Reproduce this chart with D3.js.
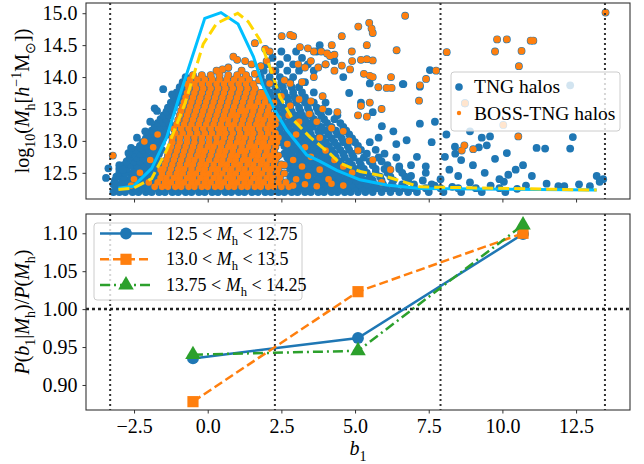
<!DOCTYPE html>
<html>
<head>
<meta charset="utf-8">
<script src="https://cdn.jsdelivr.net/npm/d3@7"></script>
<style>
  body { margin: 0; background: #fff; }
  svg { display: block; }
</style>
</head>
<body>
<svg id="chart" width="644" height="464"></svg>
<script>
// ---- data ----
const xTicks = [-2.5, 0, 2.5, 5, 7.5, 10, 12.5];
const massTicks = [12.5, 13, 13.5, 14, 14.5, 15];
const ratioTicks = [0.90, 0.95, 1.00, 1.05, 1.10];
const binEdges = [-3.31, 2.28, 7.9, 13.48];

// b1 distributions (top panel curves)
const allCurve = [[-3.03,12.26],[-2.52,12.29],[-1.9,12.57],[-1.39,13.06],[-1.0,13.64],[-0.1,14.92],[0.45,15.01],[1.03,14.83],[1.55,14.32],[1.89,13.85],[2.28,13.48],[2.68,13.17],[3.36,12.78],[3.81,12.68],[4.38,12.54],[5.17,12.39],[6.07,12.31],[7.2,12.255],[13.2,12.23]];
const bossCurve = [[-3.03,12.24],[-2.52,12.26],[-1.9,12.41],[-1.39,12.86],[-0.77,13.59],[-0.15,14.52],[0.3,14.84],[1.02,15.0],[1.37,14.87],[1.77,14.58],[2.23,14.0],[2.45,13.69],[2.9,13.33],[3.47,13.06],[4.15,12.8],[4.49,12.65],[5.17,12.52],[6.07,12.44],[7.2,12.28],[13.2,12.23]];

// TNG halos: rows of [log10 Mh, b1 values], then loose points [b1, log10 Mh]
const tngRows = [
  [12.2, [-3.2,-3.0,-2.8,-2.55,-2.35,-2.1,-1.9,-1.65,-1.45,-1.2,-1.0,-0.75,-0.55,-0.3,-0.1,0.15,0.35,0.6,0.8,1.05,1.25,1.5,1.7,1.95,2.15,2.4,2.6,2.85,3.05,3.3,3.5,3.75,3.95,4.2,4.4,4.65,4.85,5.1,5.35,5.6,5.9,6.2,6.5,6.8,7.1,7.5,8.0,8.6,9.3,10.1]],
  [12.26, [-3.1,-2.9,-2.65,-2.45,-2.2,-2.0,-1.75,-1.55,-1.3,-1.1,-0.85,-0.65,-0.4,-0.2,0.05,0.25,0.5,0.7,0.95,1.15,1.4,1.6,1.85,2.05,2.3,2.5,2.75,2.95,3.2,3.4,3.65,3.85,4.1,4.3,4.55,4.75,5.0,5.25,5.5,5.75,6.05,6.35,6.7,7.0,7.4,7.9,8.5,9.1,9.9]],
  [12.32, [-3.2,-2.95,-2.75,-2.5,-2.3,-2.05,-1.85,-1.6,-1.4,2.9,3.1,3.35,3.55,3.8,4.0,4.25,4.45,4.7,4.9,5.15,5.4,5.65,5.95,6.25,6.6,7.0,7.6]],
  [12.38, [-3.15,-2.9,-2.7,-2.45,-2.25,-2.0,-1.8,-1.6,2.9,3.2,3.4,3.65,3.9,4.1,4.35,4.6,4.8,5.05,5.3,5.6,5.9,6.3,6.8,7.3]],
  [12.44, [-3.1,-2.85,-2.6,-2.4,-2.15,-1.95,-1.7,2.8,3.05,3.3,3.5,3.75,4.0,4.2,4.45,4.7,4.95,5.2,5.5,5.85,6.2,6.7]],
  [12.5, [-3.0,-2.8,-2.55,-2.3,-2.1,-1.85,-1.65,2.9,3.15,3.4,3.6,3.85,4.1,4.3,4.55,4.8,5.1,5.4,5.7,6.1,6.6,7.4]],
  [12.56, [-3.0,-2.75,-2.5,-2.25,-2.0,-1.8,-1.6,2.8,3.0,3.25,3.5,3.7,3.95,4.2,4.4,4.7,5.0,5.3,5.7,6.0,6.5]],
  [12.62, [-2.85,-2.6,-2.4,-2.15,-1.95,-1.7,2.7,2.95,3.2,3.4,3.65,3.9,4.1,4.35,4.6,4.9,5.2,5.6,6.1,6.9]],
  [12.68, [-2.75,-2.5,-2.3,-2.05,-1.85,-1.6,2.8,3.05,3.3,3.55,3.75,4.0,4.25,4.5,4.8,5.15,5.5,5.9]],
  [12.74, [-2.65,-2.4,-2.2,-1.95,-1.75,2.7,2.9,3.15,3.4,3.6,3.85,4.1,4.35,4.65,4.95,5.3,5.8,6.4]],
  [12.8, [-2.55,-2.3,-2.1,-1.85,-1.65,2.6,2.85,3.1,3.3,3.55,3.8,4.0,4.3,4.6,4.9,5.4]],
  [12.86, [-2.45,-2.2,-2.0,-1.75,-1.55,2.7,2.95,3.2,3.45,3.7,3.95,4.2,4.5,4.8,5.2,5.7]],
  [12.92, [-2.3,-2.1,-1.9,-1.65,2.6,2.85,3.1,3.35,3.6,3.85,4.1,4.4,4.75,5.1]],
  [12.98, [-2.2,-2.0,-1.8,-1.55,2.5,2.75,3.0,3.25,3.5,3.75,4.0,4.3,4.6,5.0,5.5]],
  [13.04, [-2.1,-1.9,-1.7,-1.5,2.6,2.85,3.1,3.35,3.6,3.9,4.2,4.55,4.9]],
  [13.1, [-2.0,-1.8,-1.6,-1.4,2.5,2.75,3.0,3.25,3.5,3.8,4.1,4.4,4.8]],
  [13.16, [-1.9,-1.7,-1.5,2.45,2.7,2.95,3.2,3.45,3.75,4.0,4.35,4.7]],
  [13.22, [-1.8,-1.6,-1.4,2.5,2.75,3.0,3.3,3.55,3.85,4.2,4.6]],
  [13.28, [-1.7,-1.5,-1.3,2.4,2.65,2.9,3.2,3.45,3.7,4.05,4.5]],
  [13.34, [-1.6,-1.4,2.5,2.8,3.05,3.3,3.6,3.95,4.3]],
  [13.4, [-1.5,-1.3,2.4,2.65,2.95,3.2,3.5,3.85,4.4]],
  [13.46, [-1.4,-1.2,2.35,2.6,2.85,3.15,3.45,3.75,4.1]],
  [13.52, [-1.35,-1.15,2.3,2.55,2.8,3.1,3.4,3.7]],
  [13.6, [-1.25,-1.05,2.2,2.45,2.75,3.0,3.3,3.6,4.0]],
  [13.68, [-1.15,-0.95,2.15,2.4,2.7,2.95,3.3]],
  [13.76, [-1.05,-0.85,2.1,2.35,2.6,2.9,3.2,3.6]],
  [13.84, [-0.95,-0.8,2.0,2.3,2.55,2.85,3.1]],
  [13.92, [-0.85,1.9,2.2,2.5,2.8,3.3]],
  [14.0, [-0.75,1.8,2.1,2.45,2.9]],
  [14.1, [1.9,2.3,2.7,3.1,3.6]],
  [14.2, [2.0,2.45,2.9,3.4,4.0]],
  [14.3, [2.2,2.7,3.2]],
  [14.4, [2.5,3.0,3.7]]
];
const tngLoose = [[-3.37,12.57],[-3.45,12.42],[-3.0,12.62],[-2.88,12.55],[-2.69,12.81],[-2.6,12.89],[-2.29,12.9],[-2.12,13.15],[-1.8,13.51],[-1.72,13.47],[-1.51,13.81],[-1.21,13.73],[-2.4,13.05],[-1.95,13.3],
  [6.64,13.89],[7.2,13.27],[7.71,13.3],[6.75,13.01],[7.6,12.98],[8.39,12.91],[7.54,14.11],[6.62,13.89],[5.91,13.23],[5.6,13.45],[6.3,13.15],[5.2,13.6],[4.8,13.75],[5.5,13.9],[4.6,14.0],[4.3,14.25],[3.8,14.5],[7.2,13.85],
  [8.05,12.75],[9.3,13.05],[9.58,13.07],[9.47,12.93],[8.73,13.59],[12.3,13.87],[10.15,12.81],[11.16,12.89],[11.45,12.88],[12.3,12.88],[12.39,13.06],[13.2,12.45],[13.42,12.4],[13.3,12.36],[11.5,12.33],[11.9,12.29],[12.1,12.29],[12.97,12.29],
  [9.9,12.4],[10.05,12.36],[10.2,12.47],[10.45,12.55],[10.7,12.62],[9.4,12.5],[9.0,12.62],[8.6,12.7],[8.2,12.55],[8.9,12.35],[9.6,12.3],[10.8,12.3],[8.4,12.8],[9.2,12.9],[9.75,12.72],[8.1,13.1],[8.9,13.15],[7.9,12.4],[8.5,12.45],[7.4,12.6],[7.1,12.75],[6.5,12.6],[6.9,12.45],[7.7,12.3],[8.3,12.28],[11.0,12.45],[12.6,12.32],[10.5,12.25],
  [6.0,12.8],[6.4,12.95],[5.8,13.05]];

// BOSS-TNG halos
const bossRows = [
  [12.28, [-1.8,-1.55,-1.35,-1.1,-0.9,-0.65,-0.45,-0.2,0.0,0.25,0.45,0.7,0.9,1.15,1.35,1.6,1.8,2.05,2.25,2.5,2.75]],
  [12.35, [-1.7,-1.45,-1.25,-1.0,-0.8,-0.55,-0.35,-0.1,0.1,0.35,0.55,0.8,1.0,1.25,1.45,1.7,1.9,2.15,2.4,2.65]],
  [12.42, [-1.6,-1.4,-1.15,-0.95,-0.7,-0.5,-0.25,-0.05,0.2,0.4,0.65,0.85,1.1,1.3,1.55,1.75,2.0,2.2,2.45]],
  [12.49, [-1.55,-1.3,-1.05,-0.85,-0.6,-0.4,-0.15,0.05,0.3,0.5,0.75,0.95,1.2,1.4,1.65,1.85,2.1,2.35,2.6]],
  [12.56, [-1.5,-1.25,-1.0,-0.8,-0.55,-0.3,-0.1,0.15,0.35,0.6,0.8,1.05,1.25,1.5,1.7,1.95,2.15,2.4]],
  [12.63, [-1.45,-1.2,-0.95,-0.7,-0.5,-0.25,-0.05,0.2,0.45,0.65,0.9,1.1,1.35,1.55,1.8,2.0,2.25,2.5]],
  [12.7, [-1.4,-1.15,-0.9,-0.65,-0.45,-0.2,0.05,0.3,0.5,0.75,0.95,1.2,1.4,1.65,1.85,2.1,2.3]],
  [12.77, [-1.35,-1.1,-0.85,-0.6,-0.35,-0.15,0.1,0.35,0.55,0.8,1.0,1.25,1.5,1.7,1.95,2.15,2.4]],
  [12.84, [-1.3,-1.05,-0.8,-0.55,-0.3,-0.1,0.15,0.4,0.6,0.85,1.1,1.3,1.55,1.75,2.0,2.25]],
  [12.91, [-1.25,-1.0,-0.75,-0.5,-0.25,0.0,0.2,0.45,0.7,0.9,1.15,1.4,1.6,1.85,2.05,2.3]],
  [12.98, [-1.2,-0.95,-0.7,-0.45,-0.2,0.05,0.3,0.5,0.75,1.0,1.2,1.45,1.7,1.9,2.15,2.35]],
  [13.05, [-1.2,-0.95,-0.7,-0.45,-0.2,0.05,0.3,0.55,0.8,1.05,1.25,1.5,1.75,1.95,2.2]],
  [13.12, [-1.1,-0.85,-0.6,-0.35,-0.1,0.15,0.4,0.6,0.85,1.1,1.35,1.55,1.8,2.05,2.3]],
  [13.19, [-1.15,-0.9,-0.65,-0.4,-0.15,0.1,0.35,0.55,0.8,1.05,1.3,1.5,1.75,2.0,2.2]],
  [13.26, [-1.05,-0.8,-0.55,-0.3,-0.05,0.2,0.45,0.7,0.9,1.15,1.4,1.65,1.85,2.1,2.3]],
  [13.33, [-1.0,-0.75,-0.5,-0.25,0.0,0.25,0.5,0.7,0.95,1.2,1.45,1.7,1.9,2.15]],
  [13.4, [-0.95,-0.7,-0.45,-0.2,0.05,0.3,0.55,0.8,1.0,1.25,1.5,1.75,2.0,2.2]],
  [13.47, [-0.9,-0.65,-0.4,-0.15,0.1,0.35,0.6,0.85,1.1,1.3,1.55,1.8,2.05]],
  [13.54, [-0.85,-0.6,-0.35,-0.1,0.15,0.4,0.65,0.9,1.15,1.4,1.6,1.85,2.1]],
  [13.61, [-0.8,-0.55,-0.3,-0.05,0.2,0.45,0.7,0.95,1.2,1.45,1.7,1.95]],
  [13.68, [-0.75,-0.5,-0.25,0.0,0.25,0.5,0.75,1.0,1.25,1.5,1.75,1.95]],
  [13.75, [-0.7,-0.45,-0.2,0.05,0.3,0.55,0.8,1.05,1.3,1.55,1.8]],
  [13.82, [-0.65,-0.4,-0.15,0.1,0.35,0.6,0.85,1.1,1.35,1.6]],
  [13.89, [-0.7,-0.45,-0.2,0.05,0.3,0.55,0.8,1.05,1.3,1.55]],
  [13.96, [-0.6,-0.35,-0.1,0.15,0.4,0.65,0.9,1.15,1.4]],
  [14.03, [-0.5,-0.2,0.1,0.4,0.7,1.0,1.3]]
];
const bossLoose = [[-3.22,12.77],[-2.15,12.99],[-2.3,12.5],[-2.0,12.35],[-1.95,12.7],[-1.85,12.9],[-2.5,12.4],[-1.7,13.1],[-2.6,12.3],[-1.6,12.55],
  [0.87,14.32],[1.0,14.27],[1.27,14.25],[1.49,14.2],[1.8,14.17],[1.6,14.53],[1.95,14.44],[2.1,14.4],[0.3,14.1],[0.5,14.12],[0.7,14.15],[1.15,14.1],[1.6,14.05],[1.75,13.95],[2.0,14.25],[2.2,14.1],[1.9,13.75],[2.1,13.9],[2.25,13.6],
  [2.51,14.64],[2.9,14.64],[2.8,14.66],[3.13,14.47],[3.4,14.45],[3.6,14.4],[3.85,14.4],[4.05,14.37],[3.07,14.2],[3.3,14.15],[3.5,14.25],[3.75,14.15],[4.0,14.2],[4.3,14.1],[4.55,14.18],[4.83,14.12],
  [2.6,13.95],[2.8,13.9],[3.2,13.92],[3.6,14.0],[2.5,13.7],[2.8,13.55],[3.1,13.65],[3.5,13.62],[3.9,13.7],[2.4,13.35],[2.75,13.4],[3.1,13.3],[3.45,13.42],[3.7,13.3],
  [2.4,13.05],[2.7,12.95],[3.0,13.1],[3.3,12.9],[2.35,12.75],[2.6,12.62],[2.9,12.7],[3.2,12.6],[3.5,12.75],[3.0,12.4],[3.4,12.45],[3.8,12.55],[4.1,12.4],[2.9,12.3],[3.3,12.32],[3.7,12.29],[4.2,12.33],[4.6,12.3],
  [3.8,13.05],[4.0,12.85],[4.3,12.7],[4.6,12.6],[4.9,12.5],[4.2,13.2],[3.9,13.5],[4.4,13.45],
  [6.7,14.96],[5.48,14.85],[5.56,14.76],[5.6,14.69],[5.11,14.79],[4.55,14.64],[6.41,14.42],[8.11,14.39],[9.75,14.4],[9.82,14.59],[10.15,14.59],[10.65,14.41],[10.96,14.57],[11.05,14.57],[10.56,14.17],[13.5,15.01],
  [4.21,14.5],[4.89,14.4],[5.4,14.5],[4.15,14.33],[4.3,14.35],[5.2,14.27],[5.4,14.28],[5.6,14.26],[4.9,14.25],[5.3,14.05],[5.5,14.02],[5.6,14.0],[6.07,13.83],[6.24,13.83],[5.79,13.84],[7.17,13.63],[6.22,14.0],[7.41,13.97],[7.2,13.87],[7.75,14.1],
  [5.2,13.55],[5.5,13.6],[5.9,13.5],[5.1,13.4],[5.4,13.38],[4.6,13.15],[4.8,13.0],[5.1,12.85],[5.6,12.7],[8.71,12.93],[8.62,12.85],[9.01,12.87],[10.03,13.25],[8.73,13.59],[10.54,13.07],[6.2,12.55],[5.9,12.35]];

// bottom panel: P(b1|Mh)/P(Mh) in three mass bins
const binCenters = [-0.5, 5.1, 10.7];
const ratioLow = [0.935, 0.962, 1.099];
const ratioMid = [0.878, 1.023, 1.100];
const ratioHigh = [0.940, 0.945, 1.111];

// ---- drawing ----
const FONT = '"Liberation Serif", "Times New Roman", serif';
const svg = d3.select('#chart');
const x = d3.scaleLinear().domain([-4.13, 14.33]).range([86, 630]);
const yTop = d3.scaleLinear().domain([12.09, 15.16]).range([199, 3]);
const yBot = d3.scaleLinear().domain([0.867, 1.1254]).range([410, 214]);

const C = { blue: '#1f77b4', orange: '#ff7f0e', green: '#2ca02c', cyan: '#00bfff', gold: '#ffd700', spine: '#333' };

// helper: mixed roman / italic / sub / superscript text
function rich(sel, parts, size) {
  sel.style('font-family', FONT).style('font-size', size + 'px').attr('fill', '#000');
  let shift = 0;
  parts.forEach(([t, kind]) => {
    const ts = sel.append('tspan').text(t);
    let target = 0;
    if (kind === 'i') ts.style('font-style', 'italic');
    if (kind === 'sub') { target = size * 0.28; ts.style('font-size', (size * 0.7) + 'px'); }
    if (kind === 'sup') { target = -size * 0.38; ts.style('font-size', (size * 0.7) + 'px'); }
    if (target !== shift) ts.attr('dy', target - shift);
    shift = target;
  });
}

svg.append('defs').append('clipPath').attr('id', 'clipTop')
  .append('rect').attr('x', 86).attr('y', 3).attr('width', 544).attr('height', 196);

const tngPts = tngRows.flatMap(([m, bs]) => bs.map(b => [b, m])).concat(tngLoose);
const bossPts = bossRows.flatMap(([m, bs]) => bs.map(b => [b, m])).concat(bossLoose);

const topLayer = svg.append('g').attr('clip-path', 'url(#clipTop)');
// every halo in TNG (BOSS ones included) in blue, then the BOSS subset in orange
topLayer.append('g').selectAll('circle').data(tngPts.concat(bossPts)).join('circle')
  .attr('cx', d => x(d[0])).attr('cy', d => yTop(d[1])).attr('r', 3.9).attr('fill', C.blue);
topLayer.append('g').selectAll('circle').data(bossPts).join('circle')
  .attr('cx', d => x(d[0])).attr('cy', d => yTop(d[1])).attr('r', 3.3).attr('fill', C.orange);

const lineTop = d3.line().x(d => x(d[0])).y(d => yTop(d[1]));
topLayer.append('path').attr('d', lineTop(allCurve)).attr('fill', 'none')
  .attr('stroke', C.cyan).attr('stroke-width', 3);
topLayer.append('path').attr('d', lineTop(bossCurve)).attr('fill', 'none')
  .attr('stroke', C.gold).attr('stroke-width', 3).attr('stroke-dasharray', '11,5');

// bin edge markers, both panels
[[3, 199], [214, 410]].forEach(([y0, y1]) => {
  svg.append('g').selectAll('line').data(binEdges).join('line')
    .attr('x1', d => x(d)).attr('x2', d => x(d)).attr('y1', y0).attr('y2', y1)
    .attr('stroke', C.spine).attr('stroke-width', 2).attr('stroke-dasharray', '2,3');
});
svg.append('line').attr('x1', 86).attr('x2', 630).attr('y1', yBot(1)).attr('y2', yBot(1))
  .attr('stroke', '#222').attr('stroke-width', 2.5).attr('stroke-dasharray', '3,3');

// bottom panel series
const series = [
  { name: ['12.5', '12.75'], vals: ratioLow, color: C.blue, dash: null, marker: 'circle' },
  { name: ['13.0', '13.5'], vals: ratioMid, color: C.orange, dash: '9,4', marker: 'square' },
  { name: ['13.75', '14.25'], vals: ratioHigh, color: C.green, dash: '10,4,2,4', marker: 'triangle' }
];
const symbols = { circle: d3.symbolCircle, square: d3.symbolSquare, triangle: d3.symbolTriangle };
const symSize = { circle: 110, square: 125, triangle: 105 };
const lineBot = d3.line().x((d, i) => x(binCenters[i])).y(d => yBot(d));
series.forEach(s => {
  svg.append('path').attr('d', lineBot(s.vals)).attr('fill', 'none')
    .attr('stroke', s.color).attr('stroke-width', 2.5).attr('stroke-dasharray', s.dash);
  svg.append('g').selectAll('path').data(s.vals).join('path')
    .attr('d', d3.symbol(symbols[s.marker], symSize[s.marker]))
    .attr('transform', (d, i) => `translate(${x(binCenters[i])},${yBot(d)})`)
    .attr('fill', s.color);
});

// axes
function styleAxis(g) {
  g.attr('font-family', null).attr('font-size', null);
  g.select('.domain').remove();
  g.selectAll('.tick line').attr('stroke', C.spine).attr('stroke-width', 1);
  g.selectAll('.tick text').style('font-family', FONT).style('font-size', '20px').attr('fill', '#000');
}
svg.append('g').attr('transform', 'translate(0,199)')
  .call(d3.axisBottom(x).tickValues(xTicks).tickSize(3.5).tickFormat(''))
  .call(styleAxis);
svg.append('g').attr('transform', 'translate(0,410)')
  .call(d3.axisBottom(x).tickValues(xTicks).tickSize(3.5).tickPadding(5.5).tickFormat(d3.format('.1f')))
  .call(styleAxis);
svg.append('g').attr('transform', 'translate(86,0)')
  .call(d3.axisLeft(yTop).tickValues(massTicks).tickSize(3.5).tickPadding(5).tickFormat(d3.format('.1f')))
  .call(styleAxis);
svg.append('g').attr('transform', 'translate(86,0)')
  .call(d3.axisLeft(yBot).tickValues(ratioTicks).tickSize(3.5).tickPadding(5).tickFormat(d3.format('.2f')))
  .call(styleAxis);

// spines
[[3, 196], [214, 196]].forEach(([y0, h]) => {
  svg.append('rect').attr('x', 86).attr('y', y0).attr('width', 544).attr('height', h)
    .attr('fill', 'none').attr('stroke', C.spine).attr('stroke-width', 1.1);
});

// axis labels
rich(svg.append('text').attr('transform', 'translate(29,101) rotate(-90)').attr('text-anchor', 'middle'),
  [['log', 'n'], ['10', 'sub'], ['(', 'n'], ['M', 'i'], ['h', 'sub'], ['[', 'n'], ['h', 'i'], ['\u22121', 'sup'], ['M', 'n'], ['\u2299', 'sub'], ['])', 'n']], 20);
rich(svg.append('text').attr('transform', 'translate(29,312) rotate(-90)').attr('text-anchor', 'middle'),
  [['P', 'i'], ['(', 'n'], ['b', 'i'], ['1', 'sub'], ['|', 'n'], ['M', 'i'], ['h', 'sub'], [')/', 'n'], ['P', 'i'], ['(', 'n'], ['M', 'i'], ['h', 'sub'], [')', 'n']], 20);
rich(svg.append('text').attr('x', 358).attr('y', 455).attr('text-anchor', 'middle'),
  [['b', 'i'], ['1', 'sub']], 20);

// top legend
const lgTop = svg.append('g');
lgTop.append('rect').attr('x', 451).attr('y', 72).attr('width', 169).attr('height', 59).attr('rx', 3)
  .attr('fill', '#fff').attr('fill-opacity', 0.8).attr('stroke', '#ccc');
lgTop.append('circle').attr('cx', 459).attr('cy', 87).attr('r', 3.8).attr('fill', C.blue);
lgTop.append('circle').attr('cx', 459).attr('cy', 113).attr('r', 2.2).attr('fill', C.orange);
rich(lgTop.append('text').attr('x', 474).attr('y', 93), [['TNG halos', 'n']], 19.5);
rich(lgTop.append('text').attr('x', 474).attr('y', 119.5), [['BOSS-TNG halos', 'n']], 19.5);

// bottom legend
const lgBot = svg.append('g');
lgBot.append('rect').attr('x', 94).attr('y', 223).attr('width', 208).attr('height', 77).attr('rx', 3)
  .attr('fill', '#fff').attr('fill-opacity', 0.8).attr('stroke', '#ccc');
series.forEach((s, i) => {
  const cy = 233.5 + i * 25.8;
  lgBot.append('line').attr('x1', 100).attr('x2', 152).attr('y1', cy).attr('y2', cy)
    .attr('stroke', s.color).attr('stroke-width', 2.5).attr('stroke-dasharray', s.dash);
  lgBot.append('path').attr('d', d3.symbol(symbols[s.marker], symSize[s.marker]))
    .attr('transform', `translate(126,${cy})`).attr('fill', s.color);
  rich(lgBot.append('text').attr('x', 166).attr('y', cy + 6),
    [[s.name[0] + ' < ', 'n'], ['M', 'i'], ['h', 'sub'], [' < ' + s.name[1], 'n']], 18);
});
</script>
</body>
</html>
